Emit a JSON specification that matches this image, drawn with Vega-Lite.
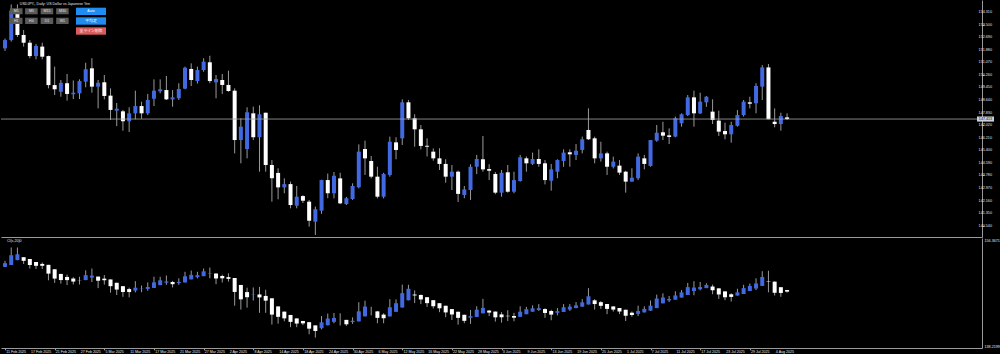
{
  "$schema": "https://vega.github.io/schema/vega-lite/v6.json",
  "background": "#000000",
  "padding": 0,
  "autosize": {"type": "pad"},
  "spacing": 1,
  "bounds": "flush",
  "config": {
    "view": {"stroke": null},
    "font": "Liberation Sans",
    "axis": {"domainColor": "#9a9a9a", "tickColor": "#9a9a9a", "labelColor": "#e6e6e6", "labelFont": "Liberation Sans", "labelFontSize": 3.7, "grid": false, "title": null, "labelOverlap": false}
  },
  "datasets": {
    "px": [
      {"d":"2025-02-11","i":0,"o":151.97,"h":152.6,"l":151.8,"c":152.5},
      {"d":"2025-02-12","i":1,"o":152.5,"h":154.8,"l":152.4,"c":154.4},
      {"d":"2025-02-13","i":2,"o":154.4,"h":154.8,"l":152.7,"c":152.83},
      {"d":"2025-02-14","i":3,"o":152.83,"h":153.15,"l":152.08,"c":152.33},
      {"d":"2025-02-17","i":4,"o":152.33,"h":152.5,"l":151.33,"c":151.47},
      {"d":"2025-02-18","i":5,"o":151.47,"h":152.25,"l":151.26,"c":152.12},
      {"d":"2025-02-19","i":6,"o":152.08,"h":152.33,"l":151.26,"c":151.43},
      {"d":"2025-02-20","i":7,"o":151.47,"h":151.5,"l":149.39,"c":149.6},
      {"d":"2025-02-21","i":8,"o":149.6,"h":150.79,"l":148.96,"c":149.33},
      {"d":"2025-02-24","i":9,"o":149.17,"h":149.93,"l":148.85,"c":149.75},
      {"d":"2025-02-25","i":10,"o":149.72,"h":150.32,"l":148.6,"c":149.03},
      {"d":"2025-02-26","i":11,"o":149.01,"h":149.9,"l":148.7,"c":149.11},
      {"d":"2025-02-27","i":12,"o":149.07,"h":149.97,"l":148.7,"c":149.86},
      {"d":"2025-02-28","i":13,"o":149.82,"h":151.04,"l":149.46,"c":150.62},
      {"d":"2025-03-03","i":14,"o":150.68,"h":151.33,"l":149.11,"c":149.5},
      {"d":"2025-03-04","i":15,"o":149.5,"h":149.93,"l":148.1,"c":149.75},
      {"d":"2025-03-05","i":16,"o":149.78,"h":150.25,"l":148.68,"c":148.9},
      {"d":"2025-03-06","i":17,"o":148.92,"h":149.39,"l":147.35,"c":148.0},
      {"d":"2025-03-07","i":18,"o":147.95,"h":148.45,"l":146.96,"c":148.08},
      {"d":"2025-03-10","i":19,"o":147.91,"h":148.0,"l":146.66,"c":147.27},
      {"d":"2025-03-11","i":20,"o":147.27,"h":148.17,"l":146.58,"c":147.78},
      {"d":"2025-03-12","i":21,"o":147.78,"h":149.24,"l":147.4,"c":148.25},
      {"d":"2025-03-13","i":22,"o":148.25,"h":148.53,"l":147.43,"c":147.78},
      {"d":"2025-03-14","i":23,"o":147.78,"h":149.03,"l":147.67,"c":148.64},
      {"d":"2025-03-17","i":24,"o":148.72,"h":149.97,"l":148.25,"c":149.24},
      {"d":"2025-03-18","i":25,"o":149.2,"h":149.97,"l":149.07,"c":149.33},
      {"d":"2025-03-19","i":26,"o":149.28,"h":150.19,"l":148.64,"c":148.68},
      {"d":"2025-03-20","i":27,"o":148.68,"h":149.28,"l":148.21,"c":148.81},
      {"d":"2025-03-21","i":28,"o":148.75,"h":149.72,"l":148.64,"c":149.35},
      {"d":"2025-03-24","i":29,"o":149.37,"h":150.79,"l":149.33,"c":150.72},
      {"d":"2025-03-25","i":30,"o":150.64,"h":151.0,"l":149.54,"c":149.93},
      {"d":"2025-03-26","i":31,"o":149.86,"h":150.79,"l":149.7,"c":150.57},
      {"d":"2025-03-27","i":32,"o":150.57,"h":151.33,"l":150.46,"c":151.11},
      {"d":"2025-03-28","i":33,"o":151.07,"h":151.49,"l":149.72,"c":149.86},
      {"d":"2025-03-31","i":34,"o":149.78,"h":150.25,"l":148.75,"c":149.99},
      {"d":"2025-04-01","i":35,"o":149.93,"h":150.32,"l":149.03,"c":149.61},
      {"d":"2025-04-02","i":36,"o":149.61,"h":150.53,"l":149.17,"c":149.22},
      {"d":"2025-04-03","i":37,"o":149.24,"h":149.39,"l":145.2,"c":146.06},
      {"d":"2025-04-04","i":38,"o":146.06,"h":147.46,"l":144.56,"c":146.92},
      {"d":"2025-04-07","i":39,"o":145.48,"h":148.17,"l":144.88,"c":147.85},
      {"d":"2025-04-08","i":40,"o":147.78,"h":148.21,"l":146.06,"c":146.24},
      {"d":"2025-04-09","i":41,"o":146.24,"h":148.3,"l":144.02,"c":147.72},
      {"d":"2025-04-10","i":42,"o":147.82,"h":147.82,"l":144.02,"c":144.45},
      {"d":"2025-04-11","i":43,"o":144.45,"h":144.77,"l":142.09,"c":143.6},
      {"d":"2025-04-14","i":44,"o":143.94,"h":144.24,"l":142.24,"c":143.01},
      {"d":"2025-04-15","i":45,"o":143.01,"h":143.59,"l":142.63,"c":143.22},
      {"d":"2025-04-16","i":46,"o":143.22,"h":143.38,"l":141.66,"c":141.87},
      {"d":"2025-04-17","i":47,"o":141.83,"h":143.1,"l":141.66,"c":142.41},
      {"d":"2025-04-18","i":48,"o":142.45,"h":142.5,"l":142.0,"c":142.15},
      {"d":"2025-04-21","i":49,"o":142.09,"h":142.2,"l":140.48,"c":140.86},
      {"d":"2025-04-22","i":50,"o":140.8,"h":141.77,"l":139.94,"c":141.6},
      {"d":"2025-04-23","i":51,"o":141.51,"h":143.5,"l":141.3,"c":143.48},
      {"d":"2025-04-24","i":52,"o":143.48,"h":143.9,"l":142.31,"c":142.63},
      {"d":"2025-04-25","i":53,"o":142.63,"h":144.0,"l":142.3,"c":143.76},
      {"d":"2025-04-28","i":54,"o":143.59,"h":143.95,"l":141.93,"c":141.98},
      {"d":"2025-04-29","i":55,"o":141.94,"h":142.4,"l":141.87,"c":142.31},
      {"d":"2025-04-30","i":56,"o":142.26,"h":143.27,"l":142.2,"c":143.1},
      {"d":"2025-05-01","i":57,"o":143.02,"h":145.78,"l":142.95,"c":145.31},
      {"d":"2025-05-02","i":58,"o":145.48,"h":146.02,"l":143.81,"c":144.88},
      {"d":"2025-05-05","i":59,"o":144.71,"h":145.03,"l":143.59,"c":143.7},
      {"d":"2025-05-06","i":60,"o":143.7,"h":144.34,"l":142.3,"c":142.41},
      {"d":"2025-05-07","i":61,"o":142.41,"h":143.95,"l":142.3,"c":143.87},
      {"d":"2025-05-08","i":62,"o":143.81,"h":146.28,"l":143.7,"c":145.95},
      {"d":"2025-05-09","i":63,"o":145.91,"h":146.24,"l":144.82,"c":145.42},
      {"d":"2025-05-12","i":64,"o":146.17,"h":148.68,"l":145.74,"c":148.49},
      {"d":"2025-05-13","i":65,"o":148.49,"h":148.64,"l":147.35,"c":147.46},
      {"d":"2025-05-14","i":66,"o":147.46,"h":147.72,"l":145.63,"c":146.75},
      {"d":"2025-05-15","i":67,"o":146.75,"h":147.03,"l":145.46,"c":145.68},
      {"d":"2025-05-16","i":68,"o":145.69,"h":146.17,"l":145.0,"c":145.63},
      {"d":"2025-05-19","i":69,"o":145.31,"h":145.52,"l":144.73,"c":144.88},
      {"d":"2025-05-20","i":70,"o":144.88,"h":145.53,"l":144.13,"c":144.52},
      {"d":"2025-05-21","i":71,"o":144.52,"h":144.82,"l":143.31,"c":143.7},
      {"d":"2025-05-22","i":72,"o":143.7,"h":144.45,"l":142.84,"c":144.02},
      {"d":"2025-05-23","i":73,"o":144.02,"h":144.09,"l":142.07,"c":142.59},
      {"d":"2025-05-26","i":74,"o":142.52,"h":143.1,"l":142.31,"c":142.88},
      {"d":"2025-05-27","i":75,"o":142.84,"h":144.5,"l":142.2,"c":144.34},
      {"d":"2025-05-28","i":76,"o":144.34,"h":145.1,"l":143.87,"c":144.84},
      {"d":"2025-05-29","i":77,"o":144.82,"h":146.32,"l":144.02,"c":144.17},
      {"d":"2025-05-30","i":78,"o":144.19,"h":144.5,"l":143.48,"c":144.08},
      {"d":"2025-06-02","i":79,"o":143.87,"h":144.0,"l":142.57,"c":142.67},
      {"d":"2025-06-03","i":80,"o":142.67,"h":144.13,"l":142.41,"c":143.95},
      {"d":"2025-06-04","i":81,"o":143.98,"h":144.45,"l":142.67,"c":142.73},
      {"d":"2025-06-05","i":82,"o":142.73,"h":144.02,"l":142.63,"c":143.48},
      {"d":"2025-06-06","i":83,"o":143.42,"h":145.1,"l":143.38,"c":144.95},
      {"d":"2025-06-09","i":84,"o":144.88,"h":145.0,"l":144.02,"c":144.56},
      {"d":"2025-06-10","i":85,"o":144.52,"h":145.25,"l":144.45,"c":144.84},
      {"d":"2025-06-11","i":86,"o":144.84,"h":145.46,"l":144.34,"c":144.52},
      {"d":"2025-06-12","i":87,"o":144.56,"h":144.77,"l":143.2,"c":143.48},
      {"d":"2025-06-13","i":88,"o":143.44,"h":144.52,"l":142.8,"c":144.17},
      {"d":"2025-06-16","i":89,"o":144.02,"h":144.82,"l":143.6,"c":144.77},
      {"d":"2025-06-17","i":90,"o":144.71,"h":145.46,"l":144.34,"c":145.25},
      {"d":"2025-06-18","i":91,"o":145.27,"h":145.46,"l":144.34,"c":145.14},
      {"d":"2025-06-19","i":92,"o":145.1,"h":145.8,"l":144.77,"c":145.37},
      {"d":"2025-06-20","i":93,"o":145.42,"h":146.28,"l":145.2,"c":146.11},
      {"d":"2025-06-23","i":94,"o":146.71,"h":148.1,"l":146.06,"c":146.11},
      {"d":"2025-06-24","i":95,"o":146.17,"h":146.28,"l":144.56,"c":144.88},
      {"d":"2025-06-25","i":96,"o":144.88,"h":145.95,"l":144.67,"c":145.2},
      {"d":"2025-06-26","i":97,"o":145.2,"h":145.31,"l":143.81,"c":144.34},
      {"d":"2025-06-27","i":98,"o":144.34,"h":144.99,"l":144.23,"c":144.67},
      {"d":"2025-06-30","i":99,"o":144.41,"h":144.77,"l":143.81,"c":143.96},
      {"d":"2025-07-01","i":100,"o":144.02,"h":144.08,"l":142.67,"c":143.38},
      {"d":"2025-07-02","i":101,"o":143.38,"h":144.24,"l":143.38,"c":143.63},
      {"d":"2025-07-03","i":102,"o":143.6,"h":145.2,"l":143.48,"c":144.99},
      {"d":"2025-07-04","i":103,"o":144.88,"h":145.1,"l":144.17,"c":144.52},
      {"d":"2025-07-07","i":104,"o":144.39,"h":146.06,"l":144.34,"c":146.06},
      {"d":"2025-07-08","i":105,"o":146.02,"h":147.03,"l":145.95,"c":146.53},
      {"d":"2025-07-09","i":106,"o":146.56,"h":147.24,"l":146.06,"c":146.34},
      {"d":"2025-07-10","i":107,"o":146.36,"h":146.81,"l":145.8,"c":146.26},
      {"d":"2025-07-11","i":108,"o":146.28,"h":147.57,"l":146.24,"c":147.46},
      {"d":"2025-07-14","i":109,"o":147.14,"h":147.78,"l":146.92,"c":147.72},
      {"d":"2025-07-15","i":110,"o":147.67,"h":148.96,"l":147.61,"c":148.81},
      {"d":"2025-07-16","i":111,"o":148.81,"h":149.24,"l":146.92,"c":147.78},
      {"d":"2025-07-17","i":112,"o":147.78,"h":149.11,"l":147.74,"c":148.53},
      {"d":"2025-07-18","i":113,"o":148.49,"h":148.9,"l":148.2,"c":148.85},
      {"d":"2025-07-21","i":114,"o":147.89,"h":148.68,"l":147.09,"c":147.35},
      {"d":"2025-07-22","i":115,"o":147.31,"h":147.95,"l":146.32,"c":146.6},
      {"d":"2025-07-23","i":116,"o":146.64,"h":147.18,"l":146.11,"c":146.43},
      {"d":"2025-07-24","i":117,"o":146.43,"h":147.24,"l":145.89,"c":147.03},
      {"d":"2025-07-25","i":118,"o":146.98,"h":147.99,"l":146.92,"c":147.67},
      {"d":"2025-07-28","i":119,"o":147.67,"h":148.64,"l":147.57,"c":148.53},
      {"d":"2025-07-29","i":120,"o":148.49,"h":148.85,"l":148.1,"c":148.4},
      {"d":"2025-07-30","i":121,"o":148.43,"h":149.72,"l":147.78,"c":149.54},
      {"d":"2025-07-31","i":122,"o":149.5,"h":150.89,"l":148.64,"c":150.74},
      {"d":"2025-08-01","i":123,"o":150.74,"h":150.96,"l":147.4,"c":147.4},
      {"d":"2025-08-04","i":124,"o":147.24,"h":148.1,"l":146.88,"c":147.09},
      {"d":"2025-08-05","i":125,"o":147.09,"h":147.82,"l":146.66,"c":147.61},
      {"d":"2025-08-06","i":126,"o":147.52,"h":147.78,"l":147.35,"c":147.413}
    ],
    "ha": [
      {"d":"2025-02-11","i":0,"o":151.6,"h":152.6,"l":151.6,"c":152.22},
      {"d":"2025-02-12","i":1,"o":151.91,"h":154.8,"l":151.91,"c":153.53},
      {"d":"2025-02-13","i":2,"o":152.72,"h":154.8,"l":152.7,"c":153.68},
      {"d":"2025-02-14","i":3,"o":153.2,"h":153.2,"l":152.08,"c":152.6},
      {"d":"2025-02-17","i":4,"o":152.9,"h":152.9,"l":151.33,"c":151.91},
      {"d":"2025-02-18","i":5,"o":152.41,"h":152.41,"l":151.26,"c":151.78},
      {"d":"2025-02-19","i":6,"o":152.09,"h":152.33,"l":151.26,"c":151.78},
      {"d":"2025-02-20","i":7,"o":151.94,"h":151.94,"l":149.39,"c":150.49},
      {"d":"2025-02-21","i":8,"o":151.21,"h":151.21,"l":148.96,"c":149.67},
      {"d":"2025-02-24","i":9,"o":150.44,"h":150.44,"l":148.85,"c":149.43},
      {"d":"2025-02-25","i":10,"o":149.94,"h":150.32,"l":148.6,"c":149.42},
      {"d":"2025-02-26","i":11,"o":149.68,"h":149.9,"l":148.7,"c":149.18},
      {"d":"2025-02-27","i":12,"o":149.43,"h":149.97,"l":148.7,"c":149.4},
      {"d":"2025-02-28","i":13,"o":149.42,"h":151.04,"l":149.42,"c":150.24},
      {"d":"2025-03-03","i":14,"o":149.83,"h":151.33,"l":149.11,"c":150.16},
      {"d":"2025-03-04","i":15,"o":150.0,"h":150.0,"l":148.1,"c":149.32},
      {"d":"2025-03-05","i":16,"o":149.66,"h":150.25,"l":148.68,"c":149.4},
      {"d":"2025-03-06","i":17,"o":149.53,"h":149.53,"l":147.35,"c":148.42},
      {"d":"2025-03-07","i":18,"o":148.98,"h":148.98,"l":146.96,"c":147.86},
      {"d":"2025-03-10","i":19,"o":148.42,"h":148.42,"l":146.66,"c":147.46},
      {"d":"2025-03-11","i":20,"o":147.94,"h":148.17,"l":146.58,"c":147.45},
      {"d":"2025-03-12","i":21,"o":147.7,"h":149.24,"l":147.4,"c":148.17},
      {"d":"2025-03-13","i":22,"o":147.94,"h":148.53,"l":147.43,"c":148.0},
      {"d":"2025-03-14","i":23,"o":147.97,"h":149.03,"l":147.67,"c":148.28},
      {"d":"2025-03-17","i":24,"o":148.13,"h":149.97,"l":148.13,"c":149.05},
      {"d":"2025-03-18","i":25,"o":148.59,"h":149.97,"l":148.59,"c":149.39},
      {"d":"2025-03-19","i":26,"o":148.99,"h":150.19,"l":148.64,"c":149.2},
      {"d":"2025-03-20","i":27,"o":149.1,"h":149.28,"l":148.21,"c":148.75},
      {"d":"2025-03-21","i":28,"o":148.93,"h":149.72,"l":148.64,"c":149.12},
      {"d":"2025-03-24","i":29,"o":149.03,"h":150.79,"l":149.03,"c":150.05},
      {"d":"2025-03-25","i":30,"o":149.54,"h":151.0,"l":149.54,"c":150.28},
      {"d":"2025-03-26","i":31,"o":149.91,"h":150.79,"l":149.7,"c":150.23},
      {"d":"2025-03-27","i":32,"o":150.07,"h":151.33,"l":150.07,"c":150.87},
      {"d":"2025-03-28","i":33,"o":150.47,"h":151.49,"l":149.72,"c":150.54},
      {"d":"2025-03-31","i":34,"o":150.51,"h":150.51,"l":148.75,"c":149.69},
      {"d":"2025-04-01","i":35,"o":150.1,"h":150.32,"l":149.03,"c":149.72},
      {"d":"2025-04-02","i":36,"o":149.91,"h":150.53,"l":149.17,"c":149.63},
      {"d":"2025-04-03","i":37,"o":149.77,"h":149.77,"l":145.2,"c":147.47},
      {"d":"2025-04-04","i":38,"o":148.62,"h":148.62,"l":144.56,"c":146.25},
      {"d":"2025-04-07","i":39,"o":147.44,"h":148.17,"l":144.88,"c":146.6},
      {"d":"2025-04-08","i":40,"o":147.02,"h":148.21,"l":146.06,"c":147.07},
      {"d":"2025-04-09","i":41,"o":147.05,"h":148.3,"l":144.02,"c":146.57},
      {"d":"2025-04-10","i":42,"o":146.81,"h":147.82,"l":144.02,"c":146.03},
      {"d":"2025-04-11","i":43,"o":146.42,"h":146.42,"l":142.09,"c":143.73},
      {"d":"2025-04-14","i":44,"o":145.08,"h":145.08,"l":142.24,"c":143.36},
      {"d":"2025-04-15","i":45,"o":144.22,"h":144.22,"l":142.63,"c":143.11},
      {"d":"2025-04-16","i":46,"o":143.67,"h":143.67,"l":141.66,"c":142.53},
      {"d":"2025-04-17","i":47,"o":143.1,"h":143.1,"l":141.66,"c":142.25},
      {"d":"2025-04-18","i":48,"o":142.68,"h":142.68,"l":142.0,"c":142.28},
      {"d":"2025-04-21","i":49,"o":142.48,"h":142.48,"l":140.48,"c":141.41},
      {"d":"2025-04-22","i":50,"o":141.95,"h":141.95,"l":139.94,"c":141.03},
      {"d":"2025-04-23","i":51,"o":141.49,"h":143.5,"l":141.3,"c":142.45},
      {"d":"2025-04-24","i":52,"o":141.97,"h":143.9,"l":141.97,"c":143.08},
      {"d":"2025-04-25","i":53,"o":142.53,"h":144.0,"l":142.3,"c":143.17},
      {"d":"2025-04-28","i":54,"o":142.85,"h":143.95,"l":141.93,"c":142.86},
      {"d":"2025-04-29","i":55,"o":142.86,"h":142.86,"l":141.87,"c":142.13},
      {"d":"2025-04-30","i":56,"o":142.5,"h":143.27,"l":142.2,"c":142.71},
      {"d":"2025-05-01","i":57,"o":142.61,"h":145.78,"l":142.61,"c":144.27},
      {"d":"2025-05-02","i":58,"o":143.44,"h":146.02,"l":143.44,"c":145.05},
      {"d":"2025-05-05","i":59,"o":144.25,"h":145.03,"l":143.59,"c":144.26},
      {"d":"2025-05-06","i":60,"o":144.26,"h":144.34,"l":142.3,"c":143.19},
      {"d":"2025-05-07","i":61,"o":143.73,"h":143.95,"l":142.3,"c":143.13},
      {"d":"2025-05-08","i":62,"o":143.43,"h":146.28,"l":143.43,"c":144.94},
      {"d":"2025-05-09","i":63,"o":144.19,"h":146.24,"l":144.19,"c":145.6},
      {"d":"2025-05-12","i":64,"o":144.9,"h":148.68,"l":144.9,"c":147.27},
      {"d":"2025-05-13","i":65,"o":146.09,"h":148.64,"l":146.09,"c":147.99},
      {"d":"2025-05-14","i":66,"o":147.04,"h":147.72,"l":145.63,"c":146.89},
      {"d":"2025-05-15","i":67,"o":146.97,"h":147.03,"l":145.46,"c":146.23},
      {"d":"2025-05-16","i":68,"o":146.6,"h":146.6,"l":145.0,"c":145.62},
      {"d":"2025-05-19","i":69,"o":146.11,"h":146.11,"l":144.73,"c":145.11},
      {"d":"2025-05-20","i":70,"o":145.61,"h":145.61,"l":144.13,"c":144.77},
      {"d":"2025-05-21","i":71,"o":145.19,"h":145.19,"l":143.31,"c":144.09},
      {"d":"2025-05-22","i":72,"o":144.64,"h":144.64,"l":142.84,"c":143.75},
      {"d":"2025-05-23","i":73,"o":144.2,"h":144.2,"l":142.07,"c":143.19},
      {"d":"2025-05-26","i":74,"o":143.7,"h":143.7,"l":142.31,"c":142.7},
      {"d":"2025-05-27","i":75,"o":143.2,"h":144.5,"l":142.2,"c":143.47},
      {"d":"2025-05-28","i":76,"o":143.34,"h":145.1,"l":143.34,"c":144.54},
      {"d":"2025-05-29","i":77,"o":143.94,"h":146.32,"l":143.94,"c":144.83},
      {"d":"2025-05-30","i":78,"o":144.39,"h":144.5,"l":143.48,"c":144.06},
      {"d":"2025-06-02","i":79,"o":144.23,"h":144.23,"l":142.57,"c":143.28},
      {"d":"2025-06-03","i":80,"o":143.76,"h":144.13,"l":142.41,"c":143.29},
      {"d":"2025-06-04","i":81,"o":143.53,"h":144.45,"l":142.67,"c":143.46},
      {"d":"2025-06-05","i":82,"o":143.5,"h":144.02,"l":142.63,"c":143.22},
      {"d":"2025-06-06","i":83,"o":143.36,"h":145.1,"l":143.36,"c":144.21},
      {"d":"2025-06-09","i":84,"o":143.79,"h":145.0,"l":143.79,"c":144.62},
      {"d":"2025-06-10","i":85,"o":144.21,"h":145.25,"l":144.21,"c":144.77},
      {"d":"2025-06-11","i":86,"o":144.49,"h":145.46,"l":144.34,"c":144.79},
      {"d":"2025-06-12","i":87,"o":144.64,"h":144.77,"l":143.2,"c":144.0},
      {"d":"2025-06-13","i":88,"o":144.32,"h":144.52,"l":142.8,"c":143.73},
      {"d":"2025-06-16","i":89,"o":144.03,"h":144.82,"l":143.6,"c":144.3},
      {"d":"2025-06-17","i":90,"o":144.17,"h":145.46,"l":144.17,"c":144.94},
      {"d":"2025-06-18","i":91,"o":144.56,"h":145.46,"l":144.34,"c":145.05},
      {"d":"2025-06-19","i":92,"o":144.81,"h":145.8,"l":144.77,"c":145.26},
      {"d":"2025-06-20","i":93,"o":145.04,"h":146.28,"l":145.04,"c":145.75},
      {"d":"2025-06-23","i":94,"o":145.4,"h":148.1,"l":145.4,"c":146.75},
      {"d":"2025-06-24","i":95,"o":146.08,"h":146.28,"l":144.56,"c":145.47},
      {"d":"2025-06-25","i":96,"o":145.78,"h":145.95,"l":144.67,"c":145.18},
      {"d":"2025-06-26","i":97,"o":145.48,"h":145.48,"l":143.81,"c":144.67},
      {"d":"2025-06-27","i":98,"o":145.08,"h":145.08,"l":144.23,"c":144.56},
      {"d":"2025-06-30","i":99,"o":144.82,"h":144.82,"l":143.81,"c":144.24},
      {"d":"2025-07-01","i":100,"o":144.53,"h":144.53,"l":142.67,"c":143.54},
      {"d":"2025-07-02","i":101,"o":144.04,"h":144.24,"l":143.38,"c":143.66},
      {"d":"2025-07-03","i":102,"o":143.85,"h":145.2,"l":143.48,"c":144.32},
      {"d":"2025-07-04","i":103,"o":144.09,"h":145.1,"l":144.09,"c":144.67},
      {"d":"2025-07-07","i":104,"o":144.38,"h":146.06,"l":144.34,"c":145.21},
      {"d":"2025-07-08","i":105,"o":144.8,"h":147.03,"l":144.8,"c":146.38},
      {"d":"2025-07-09","i":106,"o":145.59,"h":147.24,"l":145.59,"c":146.55},
      {"d":"2025-07-10","i":107,"o":146.07,"h":146.81,"l":145.8,"c":146.31},
      {"d":"2025-07-11","i":108,"o":146.19,"h":147.57,"l":146.19,"c":146.89},
      {"d":"2025-07-14","i":109,"o":146.54,"h":147.78,"l":146.54,"c":147.39},
      {"d":"2025-07-15","i":110,"o":146.97,"h":148.96,"l":146.97,"c":148.26},
      {"d":"2025-07-16","i":111,"o":147.62,"h":149.24,"l":146.92,"c":148.19},
      {"d":"2025-07-17","i":112,"o":147.91,"h":149.11,"l":147.74,"c":148.29},
      {"d":"2025-07-18","i":113,"o":148.1,"h":148.9,"l":148.1,"c":148.61},
      {"d":"2025-07-21","i":114,"o":148.36,"h":148.68,"l":147.09,"c":147.75},
      {"d":"2025-07-22","i":115,"o":148.06,"h":148.06,"l":146.32,"c":147.05},
      {"d":"2025-07-23","i":116,"o":147.56,"h":147.56,"l":146.11,"c":146.59},
      {"d":"2025-07-24","i":117,"o":147.08,"h":147.24,"l":145.89,"c":146.65},
      {"d":"2025-07-25","i":118,"o":146.87,"h":147.99,"l":146.87,"c":147.39},
      {"d":"2025-07-28","i":119,"o":147.13,"h":148.64,"l":147.13,"c":148.1},
      {"d":"2025-07-29","i":120,"o":147.62,"h":148.85,"l":147.62,"c":148.46},
      {"d":"2025-07-30","i":121,"o":148.04,"h":149.72,"l":147.78,"c":148.87},
      {"d":"2025-07-31","i":122,"o":148.46,"h":150.89,"l":148.46,"c":149.94},
      {"d":"2025-08-01","i":123,"o":149.2,"h":150.96,"l":147.4,"c":149.13},
      {"d":"2025-08-04","i":124,"o":149.17,"h":149.17,"l":146.88,"c":147.33},
      {"d":"2025-08-05","i":125,"o":148.25,"h":148.25,"l":146.66,"c":147.3},
      {"d":"2025-08-06","i":126,"o":147.78,"h":147.78,"l":147.35,"c":147.52}
    ],
    "priceTicks": [
      {"v":140.54},{"v":141.35},{"v":142.16},{"v":142.97},{"v":143.78},{"v":144.59},{"v":145.4},{"v":146.21},{"v":147.02},
      {"v":147.83},{"v":148.64},{"v":149.45},{"v":150.26},{"v":151.07},{"v":151.88},{"v":152.69},{"v":153.5},{"v":154.31}
    ]
  },
  "vconcat": [
    {
      "width": 981,
      "height": 237,
      "layer": [
        {
          "data": {"name": "px"},
          "mark": {"type": "rule", "color": "#9a9a9a", "strokeWidth": 1},
          "encoding": {
            "x": {"field": "i", "type": "quantitative", "scale": {"domain": [0.16, 156.6], "nice": false, "zero": false}, "axis": {"orient": "bottom", "labels": false, "ticks": false, "domain": true}},
            "y": {"field": "l", "type": "quantitative", "scale": {"domain": [139.812, 155.083], "nice": false, "zero": false},
              "axis": {"orient": "right", "values": [140.54, 141.35, 142.16, 142.97, 143.78, 144.59, 145.4, 146.21, 147.02, 147.83, 148.64, 149.45, 150.26, 151.07, 151.88, 152.69, 153.5, 154.31], "labels": false, "tickSize": 2}},
            "y2": {"field": "h"}
          }
        },
        {
          "data": {"name": "px"},
          "mark": {"type": "bar", "width": 4},
          "encoding": {
            "x": {"field": "i", "type": "quantitative"},
            "y": {"field": "o", "type": "quantitative"},
            "y2": {"field": "c"},
            "color": {"condition": {"test": "datum.c >= datum.o", "value": "#4169e1"}, "value": "#ffffff"}
          }
        },
        {
          "data": {"name": "priceTicks"},
          "mark": {"type": "text", "fontSize": 3.7, "color": "#e6e6e6", "align": "left", "baseline": "middle"},
          "encoding": {"x": {"datum": 156.86, "type": "quantitative"}, "y": {"field": "v", "type": "quantitative"}, "text": {"field": "v", "format": ".3f"}}
        },
        {
          "data": {"name": "px"},
          "transform": [{"joinaggregate": [{"op": "max", "field": "i", "as": "last"}]}, {"filter": "datum.i == datum.last"}],
          "mark": {"type": "rule", "color": "#a6a6a6", "strokeWidth": 0.8},
          "encoding": {"y": {"field": "c", "type": "quantitative"}}
        },
        {
          "data": {"name": "px"},
          "transform": [{"joinaggregate": [{"op": "max", "field": "i", "as": "last"}]}, {"filter": "datum.i == datum.last"}],
          "mark": {"type": "point", "shape": "M-1,-0.3H1V0.3H-1Z", "filled": true, "opacity": 1, "color": "#c9cfdc", "size": 289},
          "encoding": {"x": {"datum": 157.97, "type": "quantitative"}, "y": {"field": "c", "type": "quantitative"}}
        },
        {
          "data": {"name": "px"},
          "transform": [{"joinaggregate": [{"op": "max", "field": "i", "as": "last"}]}, {"filter": "datum.i == datum.last"}],
          "mark": {"type": "text", "fontSize": 3.7, "color": "#101010", "align": "center", "baseline": "middle"},
          "encoding": {"x": {"datum": 157.97, "type": "quantitative"}, "y": {"field": "c", "type": "quantitative"}, "text": {"field": "c", "format": ".3f"}}
        },
        {
          "data": {"values": [{"t": "USDJPY,, Daily:  US Dollar vs Japanese Yen"}]},
          "mark": {"type": "text", "fontSize": 3.6, "color": "#e6e6e6", "align": "left", "baseline": "middle"},
          "encoding": {"x": {"datum": 2.39, "type": "quantitative"}, "y": {"datum": 154.857, "type": "quantitative"}, "text": {"field": "t"}}
        },
        {"data": {"values": [{"t": "M1"}]}, "mark": {"type": "rect", "color": "#5a5a5a"}, "encoding": {"x": {"datum": 0.797}, "x2": {"datum": 2.823}, "y": {"datum": 154.548}, "y2": {"datum": 154.162}}},
        {"data": {"values": [{"t": "M5"}]}, "mark": {"type": "rect", "color": "#5a5a5a"}, "encoding": {"x": {"datum": 3.238}, "x2": {"datum": 5.263}, "y": {"datum": 154.548}, "y2": {"datum": 154.162}}},
        {"data": {"values": [{"t": "M15"}]}, "mark": {"type": "rect", "color": "#5a5a5a"}, "encoding": {"x": {"datum": 5.742}, "x2": {"datum": 7.767}, "y": {"datum": 154.548}, "y2": {"datum": 154.162}}},
        {"data": {"values": [{"t": "M30"}]}, "mark": {"type": "rect", "color": "#5a5a5a"}, "encoding": {"x": {"datum": 8.246}, "x2": {"datum": 10.255}, "y": {"datum": 154.548}, "y2": {"datum": 154.162}}},
        {"data": {"values": [{"t": "H1"}]}, "mark": {"type": "rect", "color": "#5a5a5a"}, "encoding": {"x": {"datum": 0.797}, "x2": {"datum": 2.823}, "y": {"datum": 153.943}, "y2": {"datum": 153.537}}},
        {"data": {"values": [{"t": "H4"}]}, "mark": {"type": "rect", "color": "#5a5a5a"}, "encoding": {"x": {"datum": 3.238}, "x2": {"datum": 5.263}, "y": {"datum": 153.943}, "y2": {"datum": 153.537}}},
        {"data": {"values": [{"t": "D1"}]}, "mark": {"type": "rect", "color": "#5a5a5a"}, "encoding": {"x": {"datum": 5.742}, "x2": {"datum": 7.767}, "y": {"datum": 153.943}, "y2": {"datum": 153.537}}},
        {"data": {"values": [{"t": "W1"}]}, "mark": {"type": "rect", "color": "#5a5a5a"}, "encoding": {"x": {"datum": 8.246}, "x2": {"datum": 10.255}, "y": {"datum": 153.943}, "y2": {"datum": 153.537}}},
        {"data": {"values": [{"t": "Auto"}]}, "mark": {"type": "rect", "color": "#1e8cf0"}, "encoding": {"x": {"datum": 11.435}, "x2": {"datum": 16.268}, "y": {"datum": 154.587}, "y2": {"datum": 154.117}}},
        {"data": {"values": [{"t": "平均足"}]}, "mark": {"type": "rect", "color": "#1e8cf0"}, "encoding": {"x": {"datum": 11.435}, "x2": {"datum": 16.268}, "y": {"datum": 153.968}, "y2": {"datum": 153.492}}},
        {"data": {"values": [{"t": "全ライン削除"}]}, "mark": {"type": "rect", "color": "#d95b5b"}, "encoding": {"x": {"datum": 11.435}, "x2": {"datum": 16.268}, "y": {"datum": 153.324}, "y2": {"datum": 152.847}}},
        {"data": {"values": [{"t": "M1"}]}, "mark": {"type": "text", "fontSize": 3.6, "color": "#e0e0e0"}, "encoding": {"x": {"datum": 1.81}, "y": {"datum": 154.355}, "text": {"field": "t"}}},
        {"data": {"values": [{"t": "M5"}]}, "mark": {"type": "text", "fontSize": 3.6, "color": "#e0e0e0"}, "encoding": {"x": {"datum": 4.25}, "y": {"datum": 154.355}, "text": {"field": "t"}}},
        {"data": {"values": [{"t": "M15"}]}, "mark": {"type": "text", "fontSize": 3.6, "color": "#e0e0e0"}, "encoding": {"x": {"datum": 6.755}, "y": {"datum": 154.355}, "text": {"field": "t"}}},
        {"data": {"values": [{"t": "M30"}]}, "mark": {"type": "text", "fontSize": 3.6, "color": "#e0e0e0"}, "encoding": {"x": {"datum": 9.25}, "y": {"datum": 154.355}, "text": {"field": "t"}}},
        {"data": {"values": [{"t": "H1"}]}, "mark": {"type": "text", "fontSize": 3.6, "color": "#e0e0e0"}, "encoding": {"x": {"datum": 1.81}, "y": {"datum": 153.74}, "text": {"field": "t"}}},
        {"data": {"values": [{"t": "H4"}]}, "mark": {"type": "text", "fontSize": 3.6, "color": "#e0e0e0"}, "encoding": {"x": {"datum": 4.25}, "y": {"datum": 153.74}, "text": {"field": "t"}}},
        {"data": {"values": [{"t": "D1"}]}, "mark": {"type": "text", "fontSize": 3.6, "color": "#e0e0e0"}, "encoding": {"x": {"datum": 6.755}, "y": {"datum": 153.74}, "text": {"field": "t"}}},
        {"data": {"values": [{"t": "W1"}]}, "mark": {"type": "text", "fontSize": 3.6, "color": "#e0e0e0"}, "encoding": {"x": {"datum": 9.25}, "y": {"datum": 153.74}, "text": {"field": "t"}}},
        {"data": {"values": [{"t": "Auto"}]}, "mark": {"type": "text", "fontSize": 3.6, "color": "#ffffff"}, "encoding": {"x": {"datum": 13.85}, "y": {"datum": 154.352}, "text": {"field": "t"}}},
        {"data": {"values": [{"t": "平均足"}]}, "mark": {"type": "text", "fontSize": 3.8, "color": "#ffffff", "font": "Noto Sans CJK JP"}, "encoding": {"x": {"datum": 13.85}, "y": {"datum": 153.73}, "text": {"field": "t"}}},
        {"data": {"values": [{"t": "全ライン削除"}]}, "mark": {"type": "text", "fontSize": 3.8, "color": "#ffffff", "font": "Noto Sans CJK JP"}, "encoding": {"x": {"datum": 13.85}, "y": {"datum": 153.086}, "text": {"field": "t"}}}
      ]
    },
    {
      "width": 981,
      "height": 110,
      "layer": [
        {
          "data": {"name": "ha"},
          "mark": {"type": "rule", "color": "#9a9a9a", "strokeWidth": 1},
          "encoding": {
            "x": {"field": "i", "type": "quantitative", "scale": {"domain": [0.16, 156.6], "nice": false, "zero": false},
              "axis": {"orient": "bottom", "values": [0, 4, 8, 12, 16, 20, 24, 28, 32, 36, 40, 44, 48, 52, 56, 60, 64, 68, 72, 76, 80, 84, 88, 92, 96, 100, 104, 108, 112, 116, 120, 124], "labels": false, "tickSize": 1.8}},
            "y": {"field": "l", "type": "quantitative", "scale": {"domain": [138.2199, 156.3671], "nice": false, "zero": false},
              "axis": {"orient": "right", "values": [138.2199, 156.3671], "format": ".4f", "tickSize": 0, "labelPadding": 2, "labelFlush": true, "labelOverlap": false}},
            "y2": {"field": "h"}
          }
        },
        {
          "data": {"name": "ha"},
          "mark": {"type": "bar", "width": 4},
          "encoding": {
            "x": {"field": "i", "type": "quantitative"},
            "y": {"field": "o", "type": "quantitative"},
            "y2": {"field": "c"},
            "color": {"condition": {"test": "datum.c >= datum.o", "value": "#4169e1"}, "value": "#ffffff"}
          }
        },
        {
          "data": {"name": "px"},
          "transform": [{"filter": "datum.i % 4 == 0"}],
          "mark": {"type": "text", "fontSize": 3.6, "color": "#e6e6e6", "align": "left", "baseline": "top", "dx": 1.2, "dy": 1.9},
          "encoding": {
            "x": {"field": "i", "type": "quantitative"},
            "y": {"datum": 138.2199, "type": "quantitative"},
            "text": {"field": "d", "type": "temporal", "timeUnit": "utcyearmonthdate", "format": "%-d %b %Y"}
          }
        },
        {
          "data": {"values": [{"t": "Cl(s,20)0"}]},
          "mark": {"type": "text", "fontSize": 3.6, "color": "#e6e6e6", "align": "left", "baseline": "middle"},
          "encoding": {"x": {"datum": 0.32, "type": "quantitative"}, "y": {"datum": 155.79, "type": "quantitative"}, "text": {"field": "t"}}
        }
      ]
    }
  ]
}
